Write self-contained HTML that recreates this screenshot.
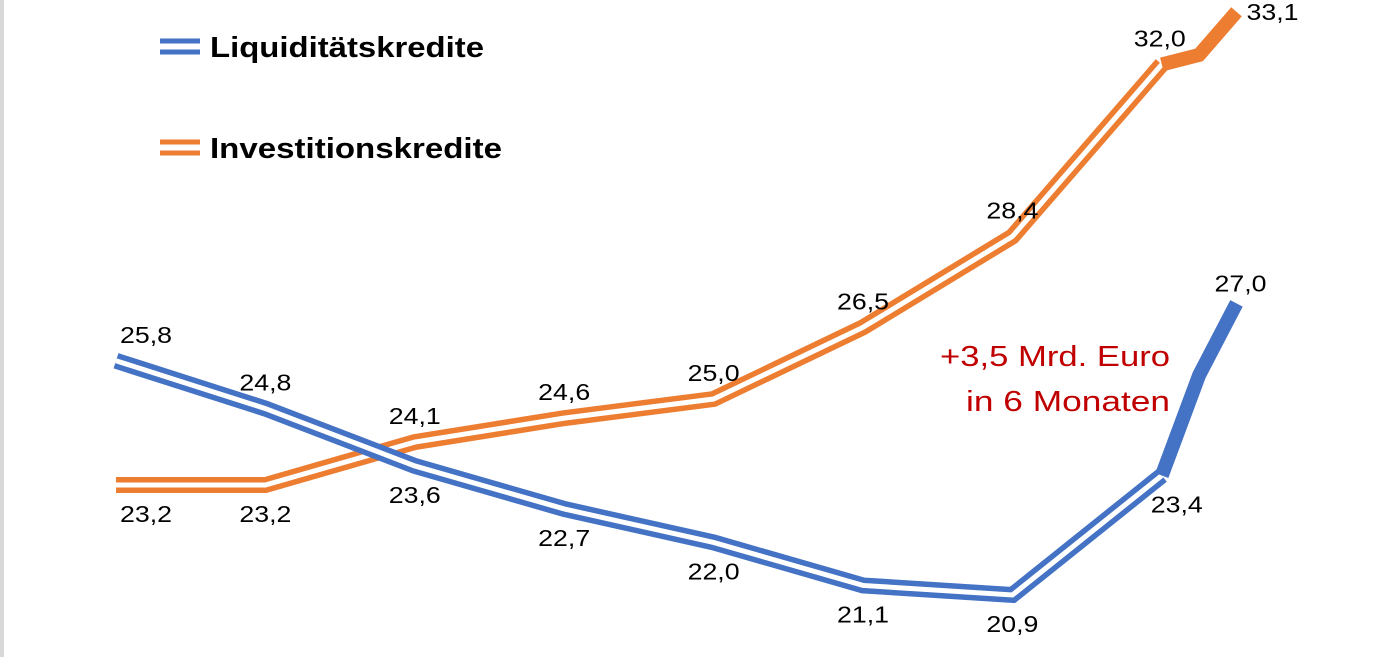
<!DOCTYPE html>
<html><head><meta charset="utf-8"><style>
body{margin:0;background:#fff;width:1388px;height:657px;overflow:hidden;position:relative}
#strip{position:absolute;left:0;top:0;width:4px;height:657px;background:#d9d9d9}
svg{position:absolute;left:0;top:0}
text{font-family:"Liberation Sans",sans-serif}
</style></head><body>
<div id="strip"></div>
<svg id="chart" width="1388" height="657">
<g>
<g>
<line x1="160" y1="41" x2="200" y2="41" stroke="#4472C4" stroke-width="5"/>
<line x1="160" y1="52" x2="200" y2="52" stroke="#4472C4" stroke-width="5"/>
<text x="210" y="57" font-size="29" font-weight="bold" fill="#000" textLength="274" lengthAdjust="spacingAndGlyphs">Liquiditätskredite</text></g>
<g>
<line x1="160" y1="142" x2="200" y2="142" stroke="#ED7D31" stroke-width="5"/>
<line x1="160" y1="153" x2="200" y2="153" stroke="#ED7D31" stroke-width="5"/>
<text x="210" y="158" font-size="29" font-weight="bold" fill="#000" textLength="292" lengthAdjust="spacingAndGlyphs">Investitionskredite</text></g>
</g>
<text x="940" y="366" font-size="29" fill="#C00000" textLength="230" lengthAdjust="spacingAndGlyphs">+3,5 Mrd. Euro</text>
<text x="966" y="411" font-size="29" fill="#C00000" textLength="204" lengthAdjust="spacingAndGlyphs">in 6 Monaten</text>
</svg>
<script>
const liquiValues=[25.8,24.8,23.6,22.7,22.0,21.1,20.9,23.4,27.0];
const investValues=[23.2,23.2,24.1,24.6,25.0,26.5,28.4,32.0,33.1];
const liquiMid=25.5;
const investMid=32.2;
const liquiLabelSide=[-1,-1,1,1,1,1,1,1,-1];
const investLabelSide=[1,1,-1,-1,-1,-1,-1,-1,0];
const NS="http://www.w3.org/2000/svg";
const svg=document.getElementById('chart');
function xPos(i){return 116+i*149.4;}
function yPos(v){return 595-(v-20.9)*47.8;}
function mk(tag,attrs){const e=document.createElementNS(NS,tag);for(const k in attrs)e.setAttribute(k,attrs[k]);return e;}
function draw(vals,mid,sides,color,name){
  const g=mk('g',{});
  
  
  let d='';
  for(let i=0;i<8;i++)d+=(i?'L':'M')+xPos(i)+' '+yPos(vals[i]);
  const outer=mk('path',{d:d,fill:'none',stroke:color,'stroke-width':16,'stroke-linejoin':'miter'});
  
  
  g.appendChild(outer);
  const inner=mk('path',{d:d,fill:'none',stroke:'#fff','stroke-width':5});
  
  
  g.appendChild(inner);
  const td='M'+xPos(7)+' '+yPos(vals[7])+'L'+xPos(7.25)+' '+yPos(mid)+'L'+xPos(7.5)+' '+yPos(vals[8]);
  const thick=mk('path',{d:td,fill:'none',stroke:color,'stroke-width':14});
  
  
  g.appendChild(thick);
  for(let i=0;i<9;i++){
    const x=i<8?xPos(i):xPos(7.5);const y=yPos(vals[i]);
    const s=sides[i];
    let tx=x+(i===0?30:0),ty=s<0?y-18:y+37;
    if(s===0){tx=x+36;ty=y+8;}
    if(i===7&&name==='investition'){tx=x-2;}
    if(i===7&&name==='liquiditaet'){tx=x+15;}
    if(i===8&&name==='liquiditaet'){tx=x+4;ty=y-12;}
    const t=mk('text',{x:tx-26,y:ty,'font-size':23,fill:'#000',textLength:52,lengthAdjust:'spacingAndGlyphs'});
    t.textContent=vals[i].toFixed(1).replace('.',',');
    
    
    g.appendChild(t);
  }
  svg.appendChild(g);
}
draw(investValues,investMid,investLabelSide,'#ED7D31','investition');
draw(liquiValues,liquiMid,liquiLabelSide,'#4472C4','liquiditaet');
</script>
</body></html>
